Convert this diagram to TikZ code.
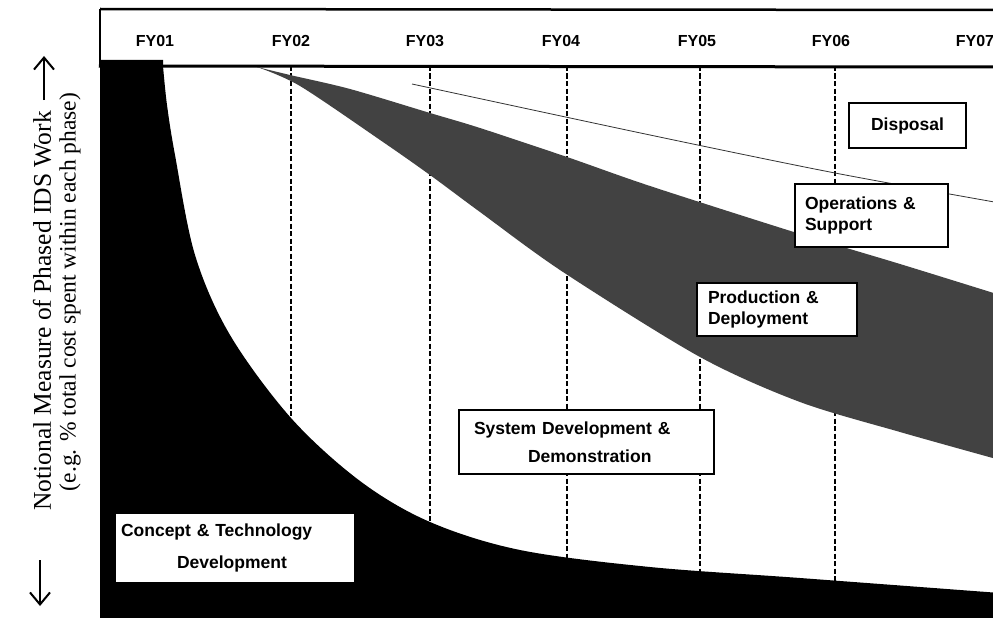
\documentclass[tikz,border=0pt]{standalone}
\usepackage{fontspec}
\setmainfont{Liberation Serif}
\newfontfamily\arialf{Liberation Sans}
\usetikzlibrary{arrows.meta}
\definecolor{bandgray}{HTML}{424242}
\begin{document}
\begin{tikzpicture}[x=1pt,y=-1pt,
  phasebox/.style={draw=black, line width=1.5pt, fill=white, align=left},
  boxfont/.style={font=\arialf\bfseries\fontsize{17.5}{#1}\selectfont},
  fylabel/.style={font=\arialf\bfseries\fontsize{16}{18}\selectfont, anchor=base},
  yeardash/.style={line width=1.6pt, dash pattern=on 5pt off 2.5pt},
  axisarrow/.style={line width=2pt, -{Straight Barb[length=12pt,width=20pt,line width=2pt]}}]
\useasboundingbox (0,0) rectangle (993,618);
\fill[white] (0,0) rectangle (993,618);
\clip (0,0) rectangle (993,618);

% year dashed lines
\foreach \xx in {291,430,567,700,835} {
  \draw[yeardash] (\xx,66) -- (\xx,610);
}
% disposal boundary thin line
\draw[line width=0.8pt, black!80] plot[smooth] coordinates {(412,84) (650,135) (835,173) (1000,203)};

% production & deployment band
\fill[bandgray] plot[smooth, tension=0.5] coordinates {(257,67) (290,75) (350,89) (430,113) (480,128) (567,157) (650,186) (797,233) (900,264) (1000,295)}
  -- plot[smooth, tension=0.5] coordinates {(1000,460) (900,432) (800,402) (700,357) (563,272) (480,212) (430,175) (383,142) (300,86) (257,67)} -- cycle;

% concept & technology development region
\fill[black] (100,60) -- (163,60) -- plot[smooth, tension=0.55] coordinates {(163,66) (167,105) (175,155) (195,255) (230,335) (291,418) (360,481) (430,522) (520,550) (650,567) (800,578) (1000,593)}
  -- (1000,620) -- (100,620) -- cycle;

% header
\draw[line width=2.5pt] (100,9) -- (1000,10);
\draw[line width=3pt] (98.75,66) -- (1000,67);
\draw[line width=2.5pt] (100,9) -- (100,66);

\node[fylabel] (fy1) at (155,47) {FY01};
\node[fylabel] (fy2) at (291,47) {FY02};
\node[fylabel] (fy3) at (425,47) {FY03};
\node[fylabel] (fy4) at (561,47) {FY04};
\node[fylabel] (fy5) at (697,47) {FY05};
\node[fylabel] (fy6) at (831,47) {FY06};
\node[fylabel] (fy7) at (975,47) {FY07};

% phase boxes
\node[phasebox, boxfont=21, align=center, minimum width=117pt, minimum height=45pt] (disp) at (907.5,125.5) {Disposal};
\node[phasebox, boxfont=21, text width=133pt, inner xsep=10pt, minimum height=63pt] (ops) at (871.5,215.5) {Operations \&\\Support};
\node[phasebox, boxfont=21, text width=138pt, inner xsep=11pt, minimum height=53pt] (prod) at (777,309.5) {Production \&\\Deployment};
\node[phasebox, boxfont=28, text width=225pt, inner xsep=15pt, minimum height=64pt] (sdd) at (586.5,442) {System Development \&\\\hspace*{54pt}Demonstration};
\node[phasebox, boxfont=32, text width=228pt, inner xsep=6pt, minimum height=70pt] (ctd) at (235,548) {Concept \& Technology\\\hspace*{56pt}Development};

% vertical axis label
\node[rotate=90, font=\fontsize{25.5}{29}\selectfont] (ylab1) at (42,311) {Notional Measure of Phased IDS Work};
\node[rotate=90, font=\fontsize{23.5}{27}\selectfont] (ylab2) at (70,292) {(e.g. \% total cost spent within each phase)};
\coordinate (upS) at (44,100);
\coordinate (upE) at (44,56);
\coordinate (dnS) at (40,560);
\coordinate (dnE) at (40,606);
\draw[axisarrow] (upS) -- (upE);
\draw[axisarrow] (dnS) -- (dnE);
\end{tikzpicture}
\end{document}
